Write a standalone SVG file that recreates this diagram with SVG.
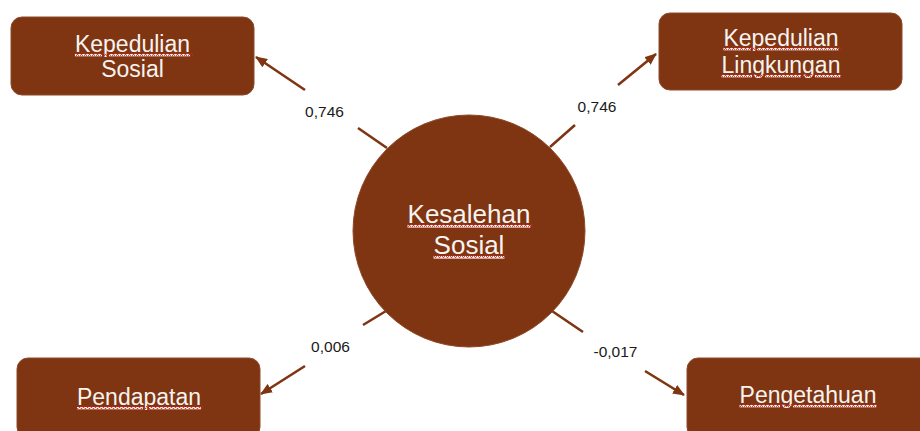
<svg xmlns="http://www.w3.org/2000/svg" width="920" height="431" viewBox="0 0 920 431">
  <style>
    .node { fill: #7f3512; stroke: #8d4a2a; stroke-width: 1; }
    .nt { font-family: "Liberation Sans", Arial, sans-serif; font-size: 23px; fill: #f7f3f0; text-anchor: middle; }
    .u { text-decoration: underline; }
    .ct { font-size: 26px; }
    .lbl { font-family: "Liberation Sans", Arial, sans-serif; font-size: 15.5px; fill: #1a1a1a; text-anchor: middle; }
    .edge { fill: none; stroke: #7f3512; stroke-width: 2.6; }
    .wavy { fill: url(#wave); }
  </style>
  <defs>
    <marker id="ah" viewBox="0 0 12 10" refX="11" refY="5" markerWidth="12" markerHeight="10" markerUnits="userSpaceOnUse" orient="auto">
      <path d="M0,0 L12,5 L0,10 z" fill="#7f3512"/>
    </marker>
    <pattern id="wave" width="4" height="3" patternUnits="userSpaceOnUse">
      <polyline points="0,2.5 1,0.5 2,0.5 3,2.5 4,2.5" fill="none" stroke="#d42020" stroke-width="0.8"/>
    </pattern>
  </defs>

  <g id="connectors">
    <path class="edge" d="M387,148 L358,128 M305,90 L256,57" marker-end="url(#ah)"/>
    <path class="edge" d="M550,147 L575,125 M618,85 L656,54" marker-end="url(#ah)"/>
    <path class="edge" d="M386,311 L363,325 M305,366 L261,394" marker-end="url(#ah)"/>
    <path class="edge" d="M552,311 L583,332 M645,371 L684,395" marker-end="url(#ah)"/>
    <text class="lbl" x="324.5" y="117">0,746</text>
    <text class="lbl" x="597" y="112">0,746</text>
    <text class="lbl" x="330.5" y="352">0,006</text>
    <text class="lbl" x="615.5" y="357">-0,017</text>
  </g>

  <g id="kepedulian-sosial">
    <rect class="node" x="11" y="17" width="243" height="78" rx="11"/>
    <text class="nt u" x="132.5" y="52">Kepedulian</text>
    <rect class="wavy" x="75" y="53" width="118" height="3"/>
    <text class="nt" x="132.5" y="77">Sosial</text>
  </g>

  <g id="kepedulian-lingkungan">
    <rect class="node" x="659" y="13" width="243" height="77" rx="11"/>
    <text class="nt u" x="781" y="46">Kepedulian</text>
    <rect class="wavy" x="723" y="47" width="118" height="3"/>
    <text class="nt u" x="781" y="73">Lingkungan</text>
    <rect class="wavy" x="721" y="74" width="121" height="3"/>
  </g>

  <g id="kesalehan-sosial">
    <circle class="node" cx="469" cy="231" r="116"/>
    <text class="nt ct u" x="469" y="223">Kesalehan</text>
    <rect class="wavy" x="407" y="224" width="126" height="3"/>
    <text class="nt ct u" x="469" y="254">Sosial</text>
    <rect class="wavy" x="433" y="255" width="73" height="3"/>
  </g>

  <g id="pendapatan">
    <rect class="node" x="17" y="358" width="243" height="80" rx="11"/>
    <text class="nt u" x="139" y="405">Pendapatan</text>
    <rect class="wavy" x="77" y="406" width="126" height="3"/>
  </g>

  <g id="pengetahuan">
    <rect class="node" x="687" y="358" width="245" height="80" rx="11"/>
    <text class="nt u" x="808" y="403">Pengetahuan</text>
    <rect class="wavy" x="740" y="404" width="137" height="3"/>
  </g>
</svg>
